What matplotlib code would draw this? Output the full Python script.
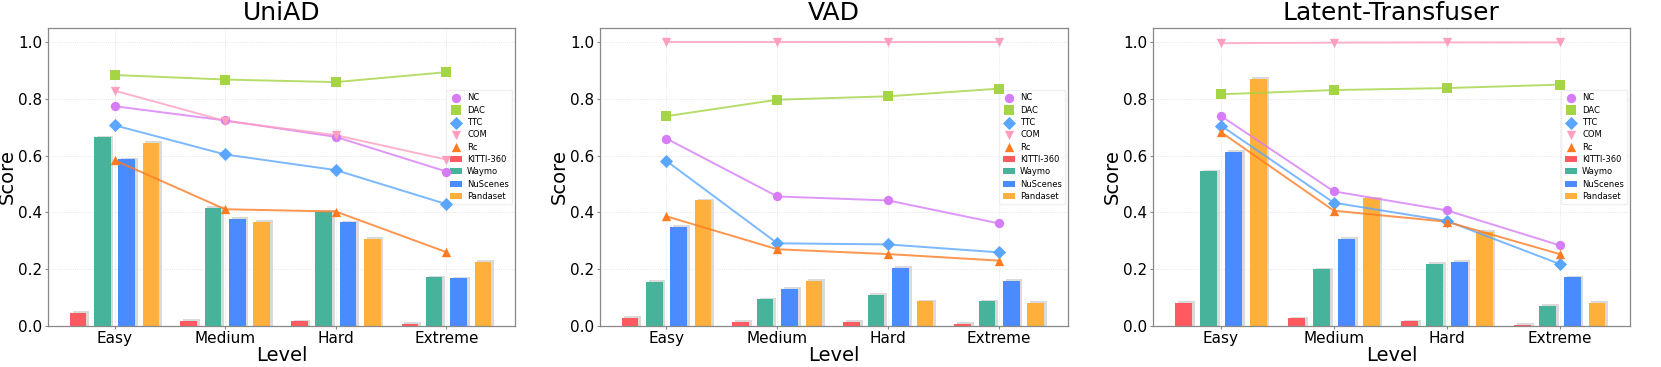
import numpy as np
import matplotlib
matplotlib.use("Agg")
import matplotlib.pyplot as plt
from matplotlib import rcParams

rcParams["font.family"] = "DejaVu Sans"

levels = ["Easy", "Medium", "Hard", "Extreme"]
models = ["UniAD", "VAD", "Latent-Transfuser"]
datasets = ["KITTI-360", "Waymo", "NuScenes", "Pandaset"]
metrics = ["NC", "DAC", "TTC", "COM", "Rc"]

# bar values per model: rows = datasets, cols = levels
uniad_bars = [
    [0.047, 0.019, 0.016, 0.007],
    [0.664, 0.417, 0.401, 0.171],
    [0.587, 0.377, 0.365, 0.168],
    [0.646, 0.367, 0.307, 0.225],
]
vad_bars = [
    [0.029, 0.014, 0.014, 0.008],
    [0.154, 0.094, 0.110, 0.086],
    [0.348, 0.131, 0.204, 0.158],
    [0.442, 0.158, 0.087, 0.080],
]
lt_bars = [
    [0.080, 0.027, 0.016, 0.004],
    [0.545, 0.199, 0.218, 0.070],
    [0.614, 0.306, 0.225, 0.171],
    [0.870, 0.449, 0.332, 0.080],
]

# line values per model: rows = metrics (NC, DAC, TTC, COM, Rc)
uniad_lines = [
    [0.774, 0.724, 0.666, 0.544],
    [0.884, 0.868, 0.859, 0.894],
    [0.707, 0.604, 0.549, 0.429],
    [0.829, 0.722, 0.672, 0.586],
    [0.584, 0.411, 0.403, 0.260],
]
vad_lines = [
    [0.660, 0.456, 0.442, 0.361],
    [0.739, 0.797, 0.809, 0.836],
    [0.581, 0.291, 0.287, 0.259],
    [1.000, 1.000, 1.000, 1.000],
    [0.386, 0.270, 0.253, 0.230],
]
lt_lines = [
    [0.740, 0.474, 0.407, 0.284],
    [0.816, 0.831, 0.838, 0.850],
    [0.706, 0.434, 0.370, 0.218],
    [0.996, 0.998, 0.999, 0.999],
    [0.683, 0.406, 0.367, 0.253],
]

bar_colors = ["#ff5a5f", "#48b39b", "#4a8cff", "#ffb03b"]
line_colors = ["#d67cf7", "#a5d445", "#5aa6ff", "#ff9fc0", "#ff7b22"]
markers = ["o", "s", "D", "v", "^"]

all_bars = [uniad_bars, vad_bars, lt_bars]
all_lines = [uniad_lines, vad_lines, lt_lines]

fig = plt.figure(figsize=(16.61, 3.67), dpi=100)
positions = [
    [0.0290, 0.112, 0.2810, 0.812],
    [0.3612, 0.112, 0.2817, 0.812],
    [0.6942, 0.112, 0.2870, 0.812],
]

x = np.arange(len(levels))
step = 0.22
width = 0.15

for k, name in enumerate(models):
    ax = fig.add_axes(positions[k])
    bars = all_bars[k]
    lines = all_lines[k]

    for i, ds in enumerate(datasets):
        xs = x + (i - 1.5) * step
        vals = np.array(bars[i])
        # soft shadow behind the bar
        ax.bar(xs + 0.025, vals + 0.006, width, color="#d4d4d4", alpha=0.85,
               zorder=1, linewidth=0)
        ax.bar(xs, vals, width, color=bar_colors[i], label=ds, zorder=2,
               linewidth=0)

    for j, m in enumerate(metrics):
        ax.plot(x, lines[j], color=line_colors[j], linewidth=1.4, alpha=0.8,
                zorder=3)
        ax.scatter(x, lines[j], color=line_colors[j], marker=markers[j],
                   s=45, zorder=6, label=m, linewidths=0)

    bh, bl = ax.get_legend_handles_labels()
    order = metrics + datasets
    lookup = dict(zip(bl, bh))
    leg = ax.legend([lookup[o] for o in order], order, loc="center right",
                    bbox_to_anchor=(1.0, 0.6), fontsize=6, framealpha=0.9,
                    edgecolor="#eeeeee", labelspacing=0.4, handlelength=1.5,
                    handletextpad=0.6, borderpad=0.4, borderaxespad=0.3)
    leg.set_zorder(5)

    ax.set_xlim(-0.6, 3.62)
    ax.set_ylim(0, 1.05)
    ax.set_xticks(x)
    ax.set_xticklabels(levels, fontsize=11)
    ax.set_yticks([0, 0.2, 0.4, 0.6, 0.8, 1.0])
    ax.set_yticklabels(["0.0", "0.2", "0.4", "0.6", "0.8", "1.0"], fontsize=11)
    ax.tick_params(length=2, color="#888888", pad=2)
    ax.set_xlabel("Level", fontsize=14, labelpad=0)
    ax.set_ylabel("Score", fontsize=14, labelpad=1)
    ax.set_title(name, fontsize=18, pad=6)
    ax.grid(True, linestyle=":", color="#dddddd", linewidth=0.6, zorder=0)
    ax.set_axisbelow(True)
    for s in ax.spines.values():
        s.set_color("#888888")
        s.set_linewidth(0.9)

plt.savefig("out.png", dpi=100)
